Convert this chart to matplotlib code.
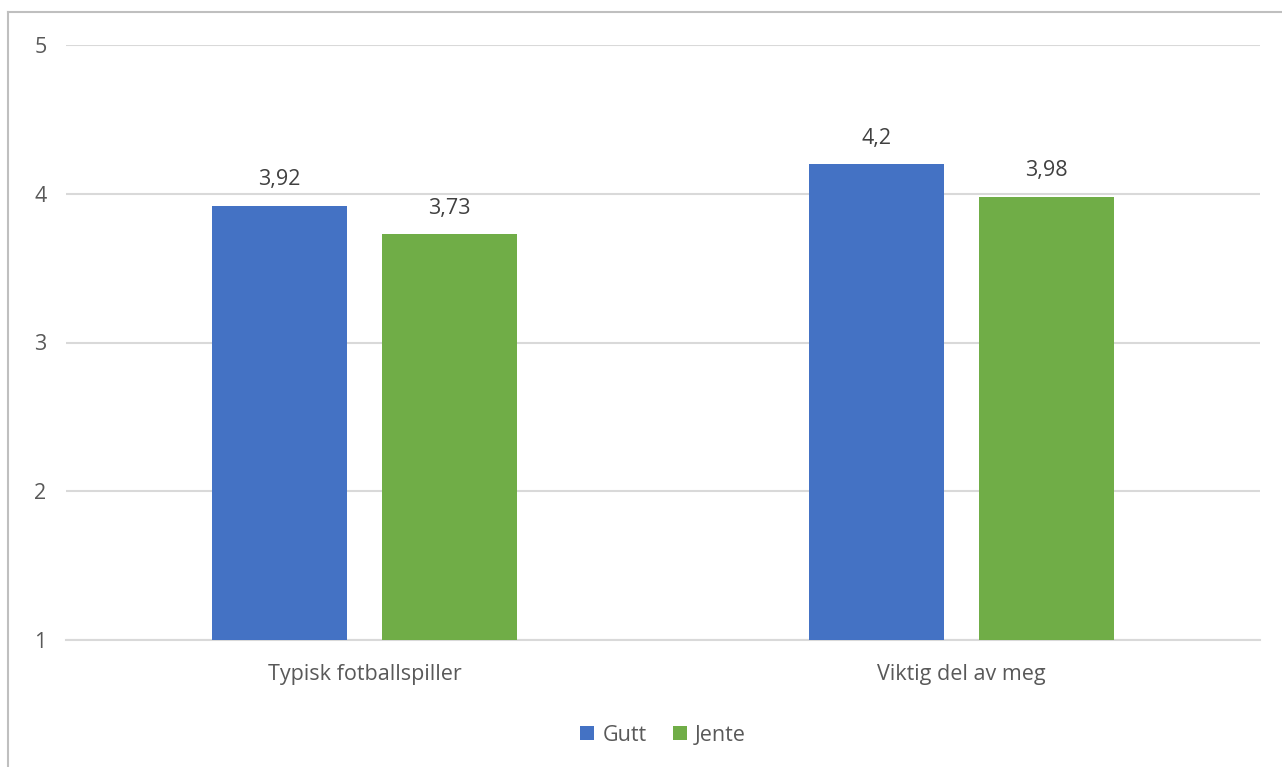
import numpy as np
import matplotlib.pyplot as plt
from matplotlib.lines import Line2D

categories = ["Typisk fotballspiller", "Viktig del av meg"]
gutt = [3.92, 4.2]
jente = [3.73, 3.98]
labels_gutt = ["3,92", "4,2"]
labels_jente = ["3,73", "3,98"]

plt.rcParams["font.family"] = ["Open Sans", "DejaVu Sans"]
txt = "#595959"
fs = 15.5

W, H = 1282, 767
fig = plt.figure(figsize=(W / 100, H / 100), dpi=100)
ax = fig.add_axes([66 / W, 1 - 640 / H, (1260 - 66) / W, (640 - 45) / H])

x = np.arange(len(categories))
bw = 0.225
off = 0.1425
ax.bar(x - off, [v - 1 for v in gutt], bw, bottom=1, color="#4472C4", label="Gutt", zorder=3)
ax.bar(x + off, [v - 1 for v in jente], bw, bottom=1, color="#70AD47", label="Jente", zorder=3)

for xi, v, s in zip(x - off, gutt, labels_gutt):
    ax.annotate(s, (xi, v), xytext=(0, 11), textcoords="offset points",
                ha="center", va="bottom", fontsize=fs, color="#404040")
for xi, v, s in zip(x + off, jente, labels_jente):
    ax.annotate(s, (xi, v), xytext=(0, 11), textcoords="offset points",
                ha="center", va="bottom", fontsize=fs, color="#404040")

ax.set_xlim(-0.5, 1.5)
ax.set_ylim(1, 5)
ax.set_yticks([1, 2, 3, 4, 5])
ax.set_xticks(x)
ax.set_xticklabels(categories)
ax.yaxis.grid(True, color="#D9D9D9", linewidth=1.5, zorder=0)
for s in ["top", "right", "left"]:
    ax.spines[s].set_visible(False)
ax.spines["bottom"].set_color("#D9D9D9")
ax.spines["bottom"].set_linewidth(1.5)
ax.tick_params(axis="both", length=0, labelsize=fs, labelcolor=txt)
ax.tick_params(axis="y", pad=14)
ax.tick_params(axis="x", pad=17)

ax.legend(loc="upper center", bbox_to_anchor=(0.5, -0.11), ncol=2, frameon=False,
          fontsize=fs, labelcolor=txt, handlelength=0.65, handleheight=0.65,
          handletextpad=0.4, columnspacing=1.2)

# outer chart frame (only left and top visible)
fig.add_artist(Line2D([8 / W, 8 / W], [0, 1 - 12 / H], color="#BFBFBF", linewidth=1.5))
fig.add_artist(Line2D([8 / W, 1], [1 - 12 / H, 1 - 12 / H], color="#BFBFBF", linewidth=1.5))

fig.savefig("out.png", dpi=100)
